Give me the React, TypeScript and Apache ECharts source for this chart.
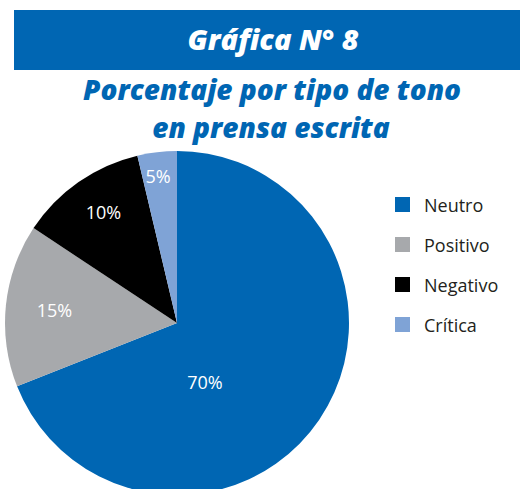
import React, { useEffect, useRef } from "react";
import * as echarts from "echarts";

const categories = ["Neutro", "Positivo", "Negativo", "Crítica"];
const values = [69, 15.3, 12, 3.7];
const labelTexts = ["70%", "15%", "10%", "5%"];
const colors = ["#0066B3", "#A7A9AC", "#000000", "#7FA3D6"];
const headerTitle = "Gráfica N° 8";
const subtitleLines = ["Porcentaje por tipo de tono", "en prensa escrita"];

// label anchor points (layout)
const LABEL_POS: [number, number][] = [
  [205, 382],
  [54.5, 310],
  [103.5, 211.5],
  [158, 176],
];

const FONT = "'Open Sans', 'Noto Sans', sans-serif";

export default function App() {
  const ref = useRef<HTMLDivElement>(null);
  useEffect(() => {
    if (!ref.current) return;
    const chart = echarts.init(ref.current, undefined, { renderer: "svg" });
    chart.setOption({
      animation: false,
      backgroundColor: "#ffffff",
      graphic: [
        {
          type: "rect",
          shape: { x: 14, y: 10, width: 506, height: 60 },
          style: { fill: "#0066B3" },
          silent: true,
        },
        {
          type: "text",
          x: 273,
          y: 38,
          style: {
            text: headerTitle,
            fill: "#ffffff",
            font: `italic 800 29px ${FONT}`,
            textAlign: "center",
            textVerticalAlign: "middle",
          },
        },
        {
          type: "text",
          x: 272,
          y: 88.5,
          style: {
            text: subtitleLines[0],
            fill: "#0066B3",
            font: `italic 800 28px ${FONT}`,
            textAlign: "center",
            textVerticalAlign: "middle",
          },
        },
        {
          type: "text",
          x: 271,
          y: 126.5,
          style: {
            text: subtitleLines[1],
            fill: "#0066B3",
            font: `italic 800 28px ${FONT}`,
            textAlign: "center",
            textVerticalAlign: "middle",
          },
        },
      ],
      legend: {
        orient: "vertical",
        left: 395,
        top: 195.5,
        padding: 0,
        itemWidth: 15,
        itemHeight: 15,
        itemGap: 22,
        icon: "rect",
        data: categories,
        textStyle: {
          fontFamily: FONT,
          fontSize: 18,
          lineHeight: 18,
          color: "#231F20",
          padding: [0, 0, 0, 9],
        },
      },
      series: [
        {
          type: "pie",
          center: [177, 323],
          radius: 172,
          startAngle: 90,
          clockwise: true,
          silent: true,
          data: categories.map((name, i) => ({
            name,
            value: values[i],
            itemStyle: { color: colors[i] },
          })),
          label: {
            show: true,
            position: "inside",
            formatter: (p: any) => labelTexts[p.dataIndex],
            color: "#ffffff",
            fontFamily: FONT,
            fontSize: 18,
          },
          labelLine: { show: false },
          labelLayout: (p: any) => ({
            x: LABEL_POS[p.dataIndex][0],
            y: LABEL_POS[p.dataIndex][1],
            align: "center",
            verticalAlign: "middle",
          }),
        },
      ],
    });
    return () => chart.dispose();
  }, []);
  return (
    <div
      ref={ref}
      style={{ position: "fixed", left: 0, top: 0, width: 520, height: 489 }}
    />
  );
}
